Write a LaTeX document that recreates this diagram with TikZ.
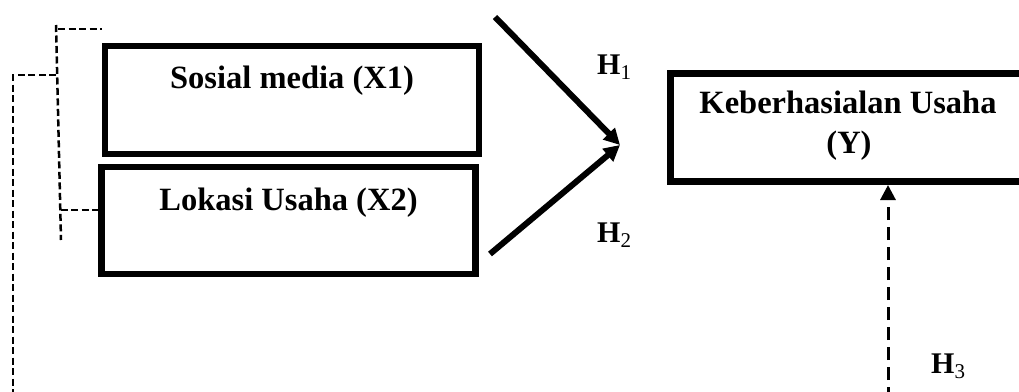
\documentclass[tikz,border=0pt]{standalone}
\usepackage{fontspec}
\setmainfont{Liberation Serif}
\usetikzlibrary{arrows.meta}
\begin{document}
\begin{tikzpicture}[x=1pt,y=-1pt,
  box/.style={draw, line width=6.5pt, inner sep=0pt, minimum width=#1, minimum height=108pt},
  lbl/.style={font=\fontsize{32.5}{40}\selectfont\bfseries, inner sep=0pt, anchor=base},
  hl/.style={font=\fontsize{30}{36}\selectfont\bfseries, inner sep=0pt, anchor=base west},
  solidarrow/.style={line width=6pt, -{Triangle[length=16pt,width=16pt]}},
  dasharrow/.style={line width=3pt, dash pattern=on 13pt off 7pt, -{Triangle[length=15pt,width=15pt]}},
  fine/.style={line width=2.5pt, dash pattern=on 7pt off 3.5pt}]
\useasboundingbox (0,0) rectangle (1019,391);
\clip (0,0) rectangle (1019,391);
% boxes
\node[box=374pt] (X1) at (292,100) {};
\node[box=374pt, minimum height=107pt] (X2) at (288.5,220.5) {};
\node[box=355pt, line width=7pt] (Y) at (848,127.5) {};
% texts
\node[lbl] (tX1) at (292,88) {Sosial media (X1)};
\node[lbl] (tX2) at (288.5,210) {Lokasi Usaha (X2)};
\node[lbl] (tY1) at (848,113) {Keberhasialan Usaha};
\node[lbl] (tY2) at (849,153) {(Y)};
% hypotheses labels
\node[hl] (H1) at (597,74) {H\textsubscript{\mdseries 1}};
\node[hl] (H2) at (597,242) {H\textsubscript{\mdseries 2}};
\node[hl] (H3) at (931,373) {H\textsubscript{\mdseries 3}};
% arrows
\coordinate (h1s) at (495,17);
\coordinate (h2s) at (490,254);
\coordinate (tip) at (620,145);
\draw[solidarrow] (h1s) -- (tip);
\draw[solidarrow] (h2s) -- (tip);
\coordinate (h3s) at (888,400);
\draw[dasharrow] (h3s) -- (h3s |- Y.south);
% left dashed brackets
\coordinate (a1) at (58,29);
\draw[fine] (a1) -- (a1 -| X1.west);
\coordinate (b1) at (56,25);
\coordinate (b2) at (61,240);
\draw[fine] (b1) -- (b2);
\coordinate (c1) at (60.5,210);
\draw[fine] (c1) -- (c1 -| X2.west);
\coordinate (d1) at (56,75);
\coordinate (d2) at (13,75);
\coordinate (d3) at (13,400);
\draw[fine] (d1) -- (d2) -- (d3);
\end{tikzpicture}
\end{document}
